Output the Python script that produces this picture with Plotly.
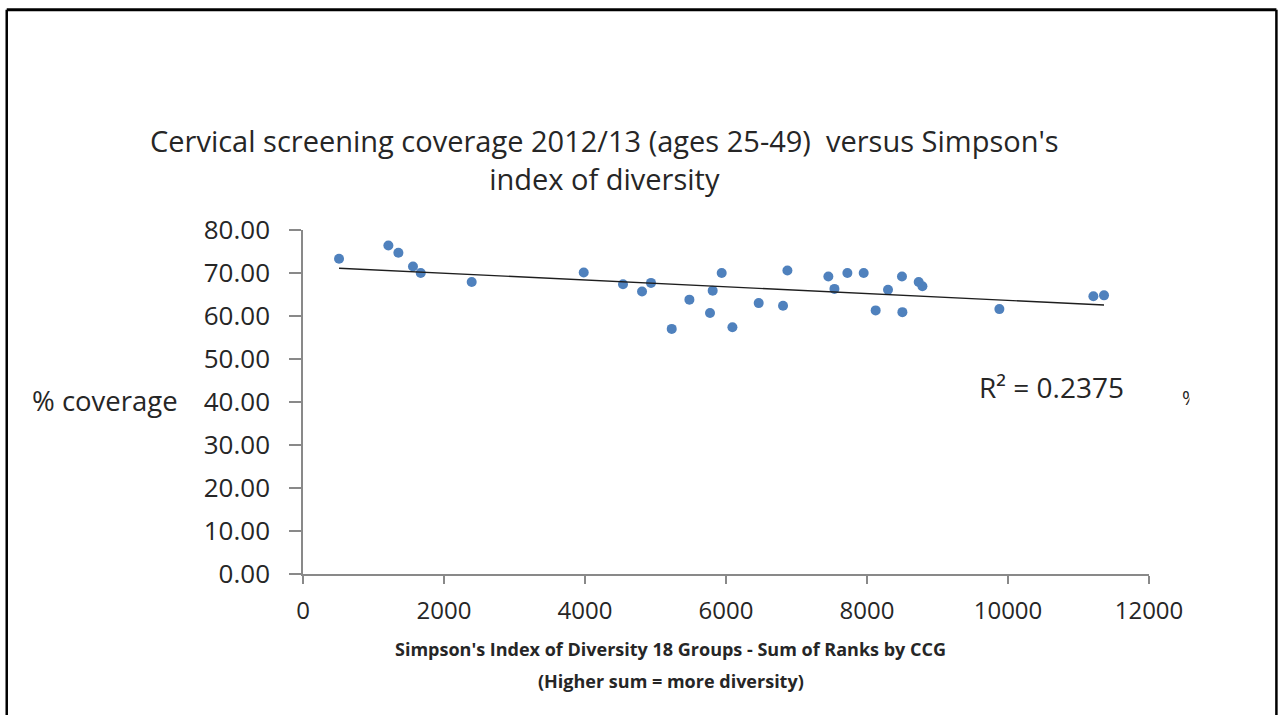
import numpy as np
import plotly.graph_objects as go

# Simpson's index of diversity (sum of ranks by CCG) and cervical screening coverage (%)
simpson_rank_sum = [511, 1211, 1353, 1560, 1670, 2393, 3982, 4539, 4809, 4936,
                    5230, 5481, 5811, 5773, 5939, 6091, 6464, 6809, 6871, 7452,
                    7538, 7722, 7953, 8123, 8298, 8496, 8502, 8733, 8786, 9878,
                    11211, 11362]
coverage_pct = [73.3, 76.4, 74.7, 71.5, 70.0, 67.9, 70.1, 67.4, 65.7, 67.7,
                57.0, 63.8, 65.9, 60.7, 70.0, 57.4, 63.0, 62.4, 70.6, 69.2,
                66.3, 70.0, 70.0, 61.3, 66.1, 69.2, 60.9, 67.9, 66.9, 61.6,
                64.6, 64.8]

x_ticks = [0, 2000, 4000, 6000, 8000, 10000, 12000]
y_ticks = [0, 10, 20, 30, 40, 50, 60, 70, 80]
r_squared_text = "R² = 0.2375"

title_text = "Cervical screening coverage 2012/13 (ages 25-49)  versus Simpson's<br>index of diversity"
x_title_lines = ["Simpson's Index of Diversity 18 Groups - Sum of Ranks by CCG",
                 "(Higher sum = more diversity)"]
y_title_text = "% coverage"

FONT = "Open Sans"
TEXT = "#262626"
AXIS = "#898989"

# Linear trendline fitted to the points
slope, intercept = np.polyfit(simpson_rank_sum, coverage_pct, 1)
trend_x = np.array([min(simpson_rank_sum), max(simpson_rank_sum)])
trend_y = slope * trend_x + intercept

fig = go.Figure()
fig.add_trace(go.Scatter(
    x=simpson_rank_sum, y=coverage_pct, mode="markers",
    marker=dict(color="#4F81BD", size=10, line=dict(width=0)),
    showlegend=False, hoverinfo="x+y"))
fig.add_trace(go.Scatter(
    x=trend_x, y=trend_y, mode="lines",
    line=dict(color="#1e1e1e", width=1.4),
    showlegend=False, hoverinfo="skip"))

annotations = [
    dict(text=title_text, xref="paper", yref="paper", x=0.3566, y=1.205,
         xanchor="center", yanchor="middle", showarrow=False,
         font=dict(family=FONT, size=29, color=TEXT)),
    dict(text=y_title_text, xref="paper", yref="paper", x=-0.3225, y=0.5038,
         xanchor="left", yanchor="middle", showarrow=False,
         font=dict(family=FONT, size=27.5, color=TEXT)),
    dict(text=r_squared_text, xref="paper", yref="paper", x=0.7963, y=0.5445,
         xanchor="left", yanchor="middle", showarrow=False,
         font=dict(family=FONT, size=28, color=TEXT)),
    dict(text="%", xref="paper", yref="paper", x=1.0363, y=0.5125,
         xanchor="left", yanchor="middle", showarrow=False,
         font=dict(family=FONT, size=20, color=TEXT)),
    # the % sign is cut off at the edge of its text box
    dict(text=" ", xref="paper", yref="paper", x=1.0470, y=0.5125,
         xanchor="left", yanchor="middle", showarrow=False,
         width=20, height=34, bgcolor="white", borderpad=0,
         font=dict(family=FONT, size=20, color=TEXT)),
]
# two-line axis title, bold
for line, ypos in zip(x_title_lines, [-0.2189, -0.3119]):
    annotations.append(dict(text="<b>" + line + "</b>", xref="paper", yref="paper",
                            x=0.4346, y=ypos, xanchor="center", yanchor="middle",
                            showarrow=False, font=dict(family=FONT, size=18, color=TEXT)))

fig.update_layout(
    width=1282, height=715,
    margin=dict(l=303, r=133, t=230, b=141),
    paper_bgcolor="white", plot_bgcolor="white",
    font=dict(family=FONT, color=TEXT),
    xaxis=dict(range=[0, 12000], tickvals=x_ticks, ticktext=[str(v) for v in x_ticks],
               showgrid=False, zeroline=False, showline=True, linecolor=AXIS, linewidth=1.6,
               ticks="outside", ticklen=8, tickwidth=1.6, tickcolor=AXIS,
               ticklabelstandoff=6, tickfont=dict(family=FONT, size=24, color=TEXT)),
    yaxis=dict(range=[0, 80], tickvals=y_ticks, tickformat=".2f",
               showgrid=False, zeroline=False, showline=True, linecolor=AXIS, linewidth=1.6,
               ticks="outside", ticklen=12, tickwidth=1.6, tickcolor=AXIS,
               ticklabelstandoff=14, tickfont=dict(family=FONT, size=26, color=TEXT)),
    annotations=annotations,
    shapes=[
        # outer chart frame (left, top, right edges)
        dict(type="line", xref="paper", yref="paper", x0=-0.3502, x1=-0.3502, y0=1.640, y1=-0.45,
             line=dict(color="black", width=2.5)),
        dict(type="line", xref="paper", yref="paper", x0=-0.3502, x1=1.1506, y0=1.640, y1=1.640,
             line=dict(color="black", width=3)),
        dict(type="line", xref="paper", yref="paper", x0=1.1506, x1=1.1506, y0=1.640, y1=-0.45,
             line=dict(color="black", width=2.5)),
    ],
)

fig.write_html("out.html")
